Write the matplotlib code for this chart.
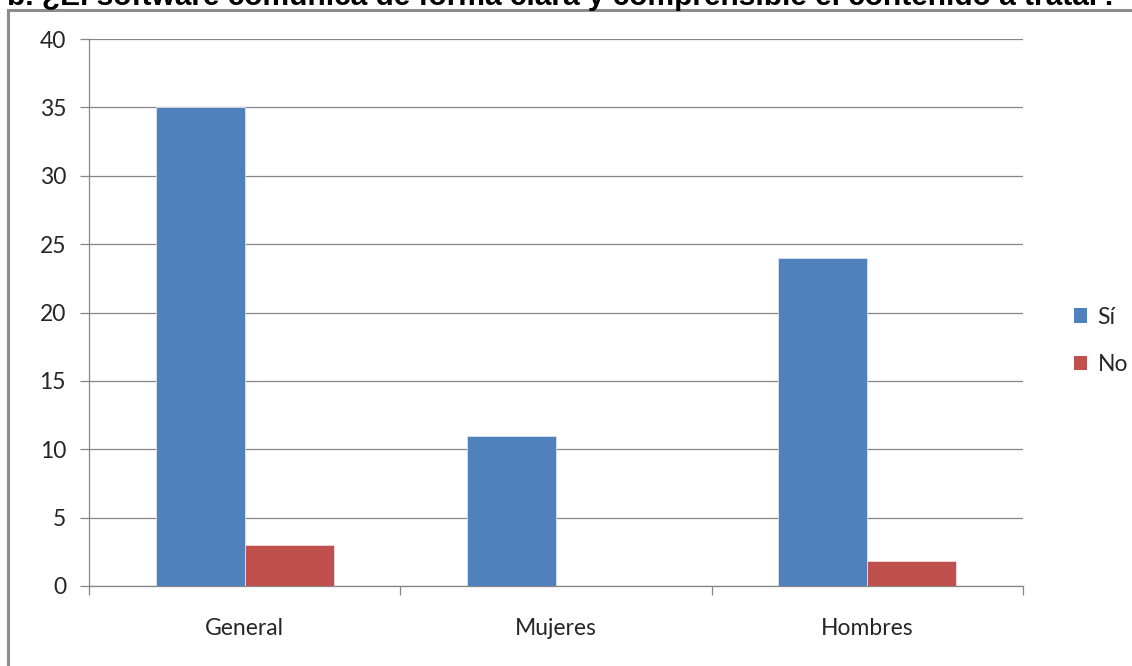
import matplotlib
matplotlib.use("Agg")
import matplotlib.pyplot as plt
from matplotlib.patches import Rectangle, Patch
import numpy as np

categories = ["General", "Mujeres", "Hombres"]
si_values = [35, 11, 24]
no_values = [3, 0, 1.8]
series_names = ["Sí", "No"]
yticks = [0, 5, 10, 15, 20, 25, 30, 35, 40]
title = "b. ¿El software comunica de forma clara y comprensible el contenido a tratar?"

W, H = 1132, 666
fig = plt.figure(figsize=(W / 100, H / 100), dpi=100)
fig.patch.set_facecolor("white")

# outer frame (partially visible)
fig.patches.append(Rectangle((8 / W, -0.2), 1.5, 1.2 - 10 / H,
                             transform=fig.transFigure, fill=False,
                             edgecolor="#8c8c8c", linewidth=2.2))

ax = fig.add_axes([89 / W, 1 - 586 / H, (1023 - 89) / W, (586 - 39) / H])
ax.set_facecolor("none")

blue = "#4F81BD"
red = "#C0504D"
x = np.arange(len(categories))
w = 0.286
ax.bar(x - w / 2, si_values, width=w, color=blue, edgecolor="#dbe5f1", linewidth=0.6, zorder=3, label=series_names[0])
ax.bar(x + w / 2, no_values, width=w, color=red, edgecolor="#f2dcdb", linewidth=0.6, zorder=3, label=series_names[1])

ax.set_xlim(-0.5, 2.5)
ax.set_ylim(0, 40)
ax.set_yticks(yticks)
ax.yaxis.grid(True, color="#868686", linewidth=0.9, zorder=0)
ax.set_axisbelow(True)

for s in ["top", "right"]:
    ax.spines[s].set_visible(False)
for s in ["left", "bottom"]:
    ax.spines[s].set_color("#868686")
    ax.spines[s].set_linewidth(0.9)

txtcol = "#262626"
fs = 16.5
ax.set_xticks(x)
ax.set_xticklabels(categories, fontsize=fs, color=txtcol, family="Lato")
ax.tick_params(axis="x", which="major", length=0, pad=23)
ax.set_xticks([-0.5, 0.5, 1.5, 2.5], minor=True)
ax.tick_params(axis="x", which="minor", length=6.5, color="#868686", width=0.9, direction="out")
ax.tick_params(axis="y", length=6.5, color="#868686", width=0.9, pad=10, labelsize=fs, labelcolor=txtcol)
for lab in ax.get_yticklabels():
    lab.set_family("Lato")

handles = [Patch(facecolor=blue, edgecolor="none"), Patch(facecolor=red, edgecolor="none")]
leg = fig.legend(handles, series_names, loc="center left", bbox_to_anchor=(1053 / W, 1 - 341 / H),
                 frameon=False, handlelength=0.6, handleheight=0.6, handletextpad=0.45,
                 labelspacing=1.15, prop={"family": "Lato", "size": fs})
for t in leg.get_texts():
    t.set_color(txtcol)

fig.text(0.497, 1 - 5 / H, title, ha="center", va="baseline", fontsize=21.5,
         fontweight="bold", family="Liberation Sans", color="black")

fig.savefig("out.png", dpi=100)
